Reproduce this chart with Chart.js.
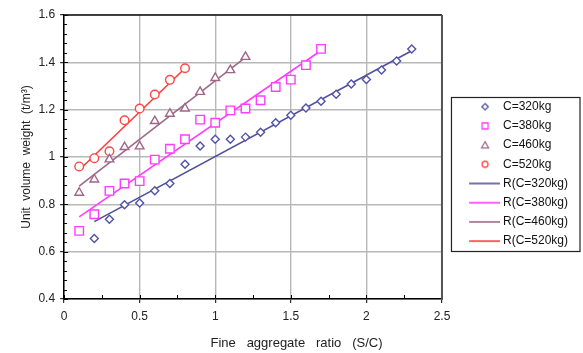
<!DOCTYPE html>
<html><head><meta charset="utf-8">
<script src="https://cdn.jsdelivr.net/npm/chart.js@4.4.1/dist/chart.umd.min.js"></script>
<style>html,body{margin:0;padding:0;background:#fff}#wrap{width:583px;height:353px}</style>
</head><body><div id="wrap"><canvas id="c" width="583" height="353"></canvas></div>
<script>
// ---- data ----
const seriesLabels = ['C=320kg', 'C=380kg', 'C=460kg', 'C=520kg'];
const fitLabels = ['R(C=320kg)', 'R(C=380kg)', 'R(C=460kg)', 'R(C=520kg)'];

const x320 = [0.2,0.3,0.4,0.5,0.6,0.7,0.8,0.9,1.0,1.1,1.2,1.3,1.4,1.5,1.6,1.7,1.8,1.9,2.0,2.1,2.2,2.3];
const y320 = [0.656,0.737,0.798,0.806,0.857,0.888,0.969,1.046,1.075,1.075,1.084,1.105,1.145,1.176,1.207,1.236,1.265,1.308,1.327,1.368,1.406,1.456];
const x380 = [0.1,0.2,0.3,0.4,0.5,0.6,0.7,0.8,0.9,1.0,1.1,1.2,1.3,1.4,1.5,1.6,1.7];
const y380 = [0.688,0.758,0.857,0.888,0.898,0.989,1.035,1.075,1.158,1.145,1.197,1.205,1.240,1.296,1.327,1.388,1.457];
const x460 = [0.1,0.2,0.3,0.4,0.5,0.6,0.7,0.8,0.9,1.0,1.1,1.2];
const y460 = [0.849,0.905,0.990,1.042,1.045,1.152,1.183,1.205,1.275,1.334,1.367,1.423];
const x520 = [0.1,0.2,0.3,0.4,0.5,0.6,0.7,0.8];
const y520 = [0.960,0.995,1.024,1.155,1.205,1.264,1.326,1.375];

// regression line end points
const fitX320 = [0.2, 2.3], fitY320 = [0.727, 1.449];
const fitX380 = [0.1, 1.7], fitY380 = [0.747, 1.450];
const fitX460 = [0.1, 1.2], fitY460 = [0.877, 1.421];
const fitX520 = [0.1, 0.8], fitY520 = [0.945, 1.375];

const xTickLabels = ['0', '0.5', '1', '1.5', '2', '2.5'];
const yTickLabels = ['0.4', '0.6', '0.8', '1', '1.2', '1.4', '1.6'];

// ---- styling ----
const markerColors = ['#5252a8', '#ff3cff', '#a0668a', '#ff4646'];
const lineColors = ['#50509c', '#ff3cff', '#9c6a86', '#ff3c3c'];
const markerStyles = ['rectRot', 'rect', 'triangle', 'circle'];
const markerRadii = [4, 6, 5, 4.3];

const pts = (xs, ys) => xs.map((v, i) => ({x: v, y: ys[i]}));
const scatterData = [pts(x320, y320), pts(x380, y380), pts(x460, y460), pts(x520, y520)];
const fitData = [pts(fitX320, fitY320), pts(fitX380, fitY380), pts(fitX460, fitY460), pts(fitX520, fitY520)];

const FONT = "'Liberation Sans', Arial, sans-serif";
Chart.defaults.font.family = FONT;
Chart.defaults.font.size = 12;
Chart.defaults.color = '#222';

// legend icons
function makeIcon(kind, i) {
  const cv = document.createElement('canvas');
  cv.width = 54; cv.height = 12;
  const g = cv.getContext('2d');
  g.lineWidth = 1.3;
  if (kind === 'line') {
    g.strokeStyle = lineColors[i]; g.lineWidth = 1.6;
    g.beginPath(); g.moveTo(23, 6); g.lineTo(54, 6); g.stroke();
    return cv;
  }
  g.strokeStyle = markerColors[i]; g.fillStyle = '#fff';
  const cx = 39, cy = 6;
  g.beginPath();
  if (i === 0) { g.moveTo(cx, cy - 3.2); g.lineTo(cx + 3.2, cy); g.lineTo(cx, cy + 3.2); g.lineTo(cx - 3.2, cy); g.closePath(); }
  else if (i === 1) { g.rect(cx - 3, cy - 3, 6, 6); }
  else if (i === 2) { g.moveTo(cx, cy - 3.5); g.lineTo(cx + 3.5, cy + 2.8); g.lineTo(cx - 3.5, cy + 2.8); g.closePath(); }
  else { g.arc(cx, cy, 3, 0, Math.PI * 2); }
  g.fill(); g.stroke();
  return cv;
}
const legendTexts = seriesLabels.concat(fitLabels);
const legendIcons = [0,1,2,3].map(i => makeIcon('marker', i)).concat([0,1,2,3].map(i => makeIcon('line', i)));

const datasets = [];
for (let i = 0; i < 4; i++) {
  datasets.push({
    type: 'scatter', label: seriesLabels[i], data: scatterData[i],
    pointStyle: markerStyles[i], pointRadius: markerRadii[i], pointBorderWidth: 1.4,
    borderColor: markerColors[i], backgroundColor: '#fff', showLine: false
  });
}
for (let i = 0; i < 4; i++) {
  datasets.push({
    type: 'line', label: fitLabels[i], data: fitData[i],
    borderColor: lineColors[i], borderWidth: 1.6, pointRadius: 0, fill: false, tension: 0
  });
}

const decorPlugin = {
  id: 'decor',
  afterDraw(chart) {
    const {ctx, chartArea: a, scales: {x, y}} = chart;
    ctx.save();
    ctx.strokeStyle = '#000'; ctx.lineWidth = 1;
    for (let i = 0; i <= 30; i++) {
      const py = Math.round(y.getPixelForValue(0.4 + i * 0.04)) + 0.5;
      const len = (i % 5 === 0) ? 4 : 3;
      ctx.beginPath(); ctx.moveTo(a.left, py); ctx.lineTo(a.left + len, py); ctx.stroke();
    }
    for (let i = 0; i <= 10; i++) {
      const px = Math.round(x.getPixelForValue(i * 0.25)) + 0.5;
      ctx.beginPath(); ctx.moveTo(px, a.bottom); ctx.lineTo(px, a.bottom - 4); ctx.stroke();
    }
    ctx.strokeStyle = '#111'; ctx.lineWidth = 1.5;
    ctx.beginPath(); ctx.moveTo(a.left, a.top); ctx.lineTo(a.right, a.top); ctx.stroke();
    ctx.strokeStyle = '#555'; ctx.lineWidth = 2;
    ctx.beginPath(); ctx.moveTo(a.right, a.top); ctx.lineTo(a.right, a.bottom + 1); ctx.stroke();
    // legend frame
    const hb = chart.legend && chart.legend.legendHitBoxes;
    if (hb && hb.length) {
      const top = hb[0].top - 4, last = hb[hb.length - 1];
      const bottom = last.top + last.height + 4;
      ctx.strokeStyle = '#222'; ctx.lineWidth = 1.2;
      ctx.strokeRect(a.right + 9.5, Math.round(top) + 0.5, 580 - (a.right + 9.5), Math.round(bottom - top));
    }
    ctx.restore();
  }
};

new Chart(document.getElementById('c'), {
  type: 'scatter',
  data: {datasets},
  options: {
    responsive: false, animation: false,
    layout: {padding: {left: 15, top: 15, right: 5, bottom: 0}},
    plugins: {
      tooltip: {enabled: false},
      title: {
        display: true, position: 'bottom', text: 'Fine   aggregate   ratio   (S/C)',
        font: {size: 13, weight: 'normal'}, color: '#222', padding: {top: 6, bottom: 2}
      },
      legend: {
        position: 'right', align: 'start', fullSize: false,
        title: {display: true, text: '', font: {size: 12}, padding: {top: 64.1, bottom: 0}},
        labels: {
          usePointStyle: true, pointStyleWidth: 47.8, padding: 7.2,
          font: {size: 12}, color: '#111',
          generateLabels: () => legendTexts.map((t, i) => ({
            text: t, pointStyle: legendIcons[i], fillStyle: '#fff', strokeStyle: '#fff',
            lineWidth: 0, hidden: false, datasetIndex: i, fontColor: '#111'
          }))
        }
      }
    },
    scales: {
      x: {
        type: 'linear', min: 0, max: 2.5,
        ticks: {stepSize: 0.5, padding: 6, color: '#222', font: {size: 12},
          callback: (v, i) => xTickLabels[i]},
        grid: {color: '#b8b8b8', lineWidth: 1.4, tickLength: 4, tickColor: '#000', tickWidth: 1},
        border: {display: true, color: '#000', width: 1.5}
      },
      y: {
        type: 'linear', min: 0.4, max: 1.6,
        ticks: {stepSize: 0.2, padding: 5, color: '#222', font: {size: 12},
          callback: (v, i) => yTickLabels[i]},
        grid: {color: '#b8b8b8', lineWidth: 1.4, tickLength: 4, tickColor: '#000', tickWidth: 1},
        border: {display: true, color: '#000', width: 1.5},
        title: {display: true, text: 'Unit  volume  weight  (t/m³)', color: '#222',
          font: {size: 12}, padding: {top: 4, bottom: 0}}
      }
    }
  },
  plugins: [decorPlugin]
});
</script>
</body></html>
